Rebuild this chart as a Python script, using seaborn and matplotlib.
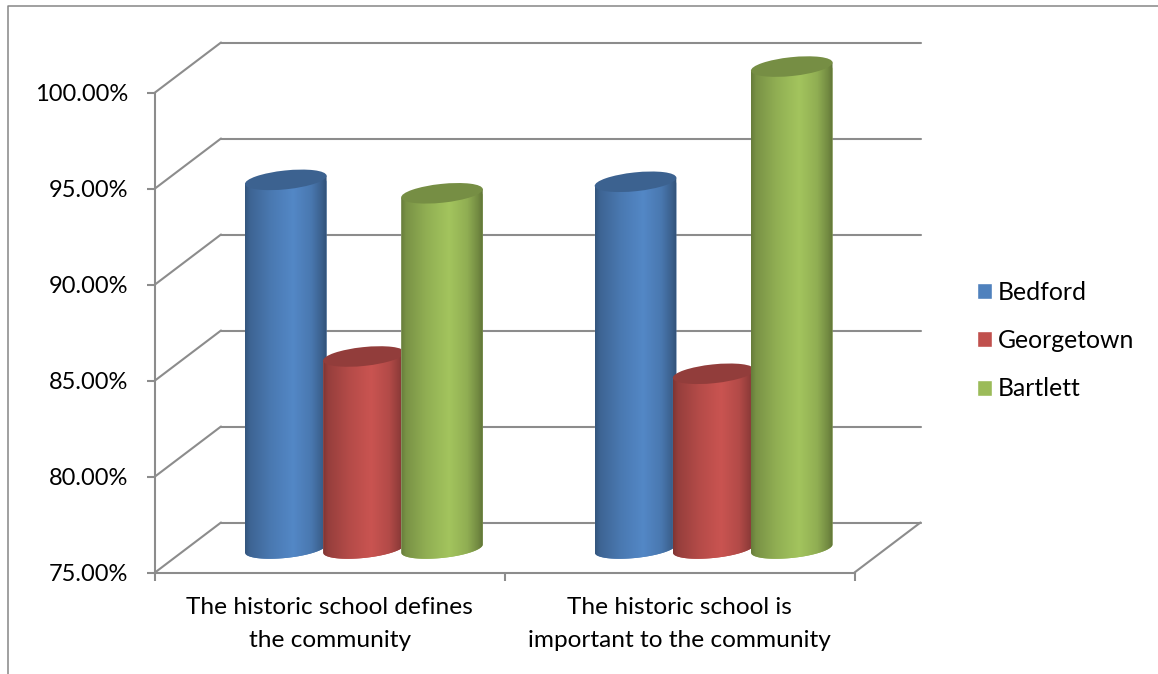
import numpy as np
import pandas as pd
import matplotlib
matplotlib.use("Agg")
import matplotlib.pyplot as plt
import seaborn as sns
from matplotlib.lines import Line2D
from matplotlib.patches import Ellipse
from matplotlib.path import Path
from matplotlib.ticker import FuncFormatter
from matplotlib.transforms import Affine2D, IdentityTransform

# Survey results
statements = ["The historic school defines\nthe community",
              "The historic school is\nimportant to the community"]
towns = ["Bedford", "Georgetown", "Bartlett"]
bedford = [94.2, 94.1]
georgetown = [85.0, 84.1]
bartlett = [93.5, 100.1]
town_colors = ["#4F81BD", "#C0504D", "#9BBB59"]
y_ticks = [75, 80, 85, 90, 95, 100]

GRAY = "#8C8C8C"
W, H = 1158, 674
DEPTH_X, DEPTH_Y = 66, 50      # depth of the 3D box, pixels
FONT_Y = 17
FONT_X = 17.6
FONT_LEGEND = 17.8

sns.set_theme(style="white")
plt.rcParams["font.family"] = ["Lato", "DejaVu Sans"]

frame = pd.DataFrame({
    "statement": statements * 3,
    "town": np.repeat(towns, 2),
    "share": bedford + georgetown + bartlett,
})

fig = plt.figure(figsize=(W / 100, H / 100), dpi=100, facecolor="white")
ax = fig.add_axes([155 / W, 1 - 572.5 / H, 699.5 / W, 480 / H])
ax.patch.set_alpha(0)

sns.barplot(data=frame, x="statement", y="share", hue="town", order=statements,
            hue_order=towns, palette=town_colors, saturation=1, width=0.67,
            gap=0, ax=ax, zorder=3)
ax.set_xlim(-0.5, 1.5)
ax.set_ylim(75, 100)
ax.set_autoscale_on(False)
ax.set_xlabel("")
ax.set_ylabel("")

# Axes, ticks and labels
for side in ("top", "right"):
    ax.spines[side].set_visible(False)
for side in ("left", "bottom"):
    ax.spines[side].set_color(GRAY)
    ax.spines[side].set_linewidth(1.5)
ax.yaxis.set_major_formatter(FuncFormatter(lambda v, _: f"{v:.2f}%"))
ax.set_yticks(y_ticks)
ax.set_xticks([-0.5, 0.5, 1.5], ["", "", ""])
ax.set_xticks([0, 1], statements, minor=True)
ax.tick_params(axis="y", which="major", length=6, width=1.5, color=GRAY,
               left=True, pad=13, labelsize=FONT_Y, labelcolor="black")
ax.tick_params(axis="x", which="major", length=5.5, width=1.5, color=GRAY,
               bottom=True)
ax.tick_params(axis="x", which="minor", length=0, pad=17.5, labelsize=FONT_X,
               labelcolor="black")
for label in ax.get_xticklabels(minor=True):
    label.set_linespacing(1.72)


def box_line(xs, ys):
    ax.add_artist(Line2D(xs, ys, color=GRAY, lw=1.5, clip_on=False, zorder=1,
                         transform=IdentityTransform(), solid_capstyle="round"))


# Back wall gridlines and floor outline
x_left, _ = ax.transData.transform((-0.5, 75))
x_right, _ = ax.transData.transform((1.5, 75))
for tick in y_ticks:
    _, py = ax.transData.transform((-0.5, tick))
    box_line([x_left, x_left + DEPTH_X], [py, py + DEPTH_Y])
    box_line([x_left + DEPTH_X, x_right + DEPTH_X], [py + DEPTH_Y, py + DEPTH_Y])
_, floor_y = ax.transData.transform((-0.5, 75))
box_line([x_right, x_right + DEPTH_X], [floor_y, floor_y + DEPTH_Y])

# Cylinders: every bar is shaded and capped, standing mid-way into the box
mid_depth = Affine2D().translate(34, 24)
bar_transform = ax.transData + mid_depth
stops = [0.0, 0.06, 0.30, 0.58, 0.80, 0.93, 1.0]
levels = [0.66, 0.78, 0.93, 1.05, 0.93, 0.74, 0.60]
shade = np.interp(np.linspace(0, 1, 256), stops, levels)
TILT = np.radians(6)
MINOR = 9.4
WIDEN = 1.05


def arc(cx, cy, a, start, stop, n=60):
    t = np.linspace(start, stop, n)
    px = cx + a * np.cos(t) * np.cos(TILT) - MINOR * np.sin(t) * np.sin(TILT)
    py = cy + a * np.cos(t) * np.sin(TILT) + MINOR * np.sin(t) * np.cos(TILT)
    return np.column_stack([px, py])


for order, (container, color) in enumerate(zip(ax.containers, town_colors)):
    rgb = np.array(matplotlib.colors.to_rgb(color))
    ramp = np.clip(shade[None, :, None] * rgb[None, None, :], 0, 1)
    for bar in container:
        value = bar.get_height()
        center = bar.get_x() + bar.get_width() / 2
        width = bar.get_width() * WIDEN
        bar.set_x(center - width / 2)
        bar.set_width(width)
        bar.set_transform(bar_transform)
        bar.set_zorder(3 + order)

        base = bar_transform.transform((center, 75))
        top = bar_transform.transform((center, value))
        edge = bar_transform.transform((center + width / 2, 75))
        a = edge[0] - base[0]

        lower = arc(base[0], base[1], a, np.pi, 2 * np.pi)
        upper = arc(top[0], top[1], a, 0, np.pi, 2)
        outline = Path(np.vstack([lower, upper, lower[:1]]))

        bar.set_clip_box(fig.bbox)
        bar.set_clip_path(outline, IdentityTransform())

        image = ax.imshow(ramp, extent=(center - width / 2, center + width / 2, 70, value + 2),
                          transform=bar_transform, aspect="auto", zorder=3 + order,
                          interpolation="bilinear")
        image.set_clip_box(fig.bbox)
        image.set_clip_path(outline, IdentityTransform())

        ax.add_artist(Ellipse(top, 2 * a, 2 * MINOR, angle=np.degrees(TILT),
                              facecolor=rgb * 0.76, edgecolor="none", clip_on=False,
                              transform=IdentityTransform(), zorder=3 + order))

ax.set_xlim(-0.5, 1.5)
ax.set_ylim(75, 100)

# Legend
handle_size = 15 / (FONT_LEGEND * 100 / 72)
ax.legend(title=None, frameon=False, fontsize=FONT_LEGEND, loc="center left",
          bbox_to_anchor=(977 / W, 1 - 340.5 / H), bbox_transform=fig.transFigure,
          handlelength=handle_size, handleheight=handle_size, handletextpad=0.25,
          labelspacing=1.03, borderpad=0, borderaxespad=0, labelcolor="black")

# Partial chart border, top and left
fig.add_artist(Line2D([8 / W, 8 / W, 1], [0, 1 - 6 / H, 1 - 6 / H], color="#868686",
                      lw=1.1, transform=fig.transFigure))

fig.savefig("out.png", dpi=100, facecolor="white")
